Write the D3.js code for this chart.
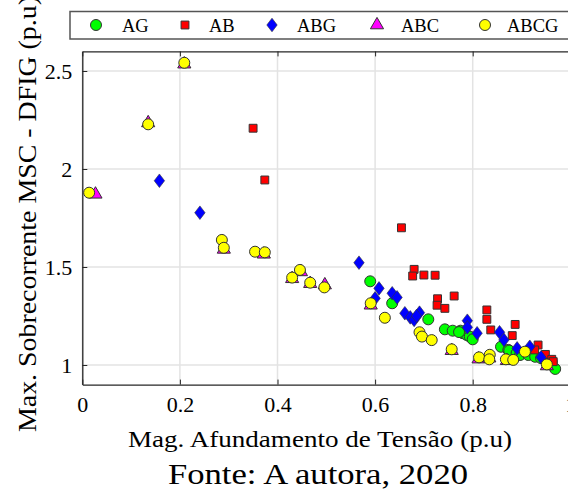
<!DOCTYPE html>
<html><head><meta charset="utf-8">
<script src="https://cdn.jsdelivr.net/npm/d3@7/dist/d3.min.js"></script>
<style>
html,body{margin:0;padding:0;background:#fff;}
svg{display:block;}
text{font-family:"Liberation Serif","Times New Roman",serif;fill:#000;}
</style></head>
<body><svg id="c" width="568" height="494"></svg>
<script>
const seriesNames = ["AG","AB","ABG","ABC","ABCG"];
const xTicks = [0,0.2,0.4,0.6,0.8,1];
const yTicks = [1,1.5,2,2.5];
const AG = [[0.590,1.427],[0.635,1.315],[0.709,1.233],[0.743,1.182],[0.759,1.175],[0.775,1.175],[0.780,1.162],[0.788,1.153],[0.794,1.145],[0.800,1.131],[0.772,1.168],[0.858,1.093],[0.873,1.077],[0.875,1.073],[0.890,1.060],[0.897,1.051],[0.914,1.051],[0.928,1.042],[0.940,1.035],[0.962,1.017],[0.969,0.980]];
const AB = [[0.350,2.208],[0.374,1.944],[0.654,1.700],[0.680,1.488],[0.677,1.454],[0.700,1.459],[0.723,1.458],[0.728,1.338],[0.727,1.305],[0.743,1.289],[0.762,1.352],[0.829,1.281],[0.829,1.233],[0.837,1.179],[0.887,1.207],[0.881,1.150],[0.934,1.102],[0.927,1.077],[0.949,1.054],[0.962,1.029],[0.965,1.017]];
const ABG = [[0.158,1.940],[0.241,1.777],[0.567,1.522],[0.608,1.391],[0.600,1.340],[0.635,1.366],[0.645,1.345],[0.661,1.264],[0.672,1.243],[0.680,1.230],[0.691,1.267],[0.685,1.250],[0.789,1.226],[0.789,1.192],[0.809,1.162],[0.855,1.167],[0.864,1.128],[0.891,1.085],[0.917,1.093],[0.940,1.039]];
const ABC = [[0.027,1.871],[0.135,2.235],[0.209,2.535],[0.290,1.590],[0.372,1.565],[0.448,1.475],[0.430,1.440],[0.467,1.415],[0.497,1.408],[0.591,1.305],[0.757,1.073],[0.812,1.030],[0.834,1.035],[0.870,1.022],[0.952,0.995]];
const ABCG = [[0.014,1.879],[0.135,2.228],[0.209,2.542],[0.286,1.638],[0.290,1.598],[0.354,1.578],[0.374,1.575],[0.446,1.485],[0.430,1.446],[0.467,1.420],[0.496,1.396],[0.591,1.315],[0.620,1.241],[0.691,1.167],[0.696,1.145],[0.716,1.127],[0.757,1.080],[0.813,1.039],[0.835,1.052],[0.834,1.029],[0.868,1.029],[0.883,1.026],[0.907,1.068],[0.952,1.003]];

const svg = d3.select("#c");
const x = d3.scaleLinear().domain([0,1]).range([82.3,570.3]);
const y = d3.scaleLinear().domain([0.9,2.6]).range([384.6,51.4]);
const pTop = y(2.6), pBot = y(0.9), pLeft = x(0), pRight = x(1);

// grid
const g = svg.append("g");
g.selectAll(".gx").data(xTicks).join("line").attr("x1",d=>x(d)).attr("x2",d=>x(d)).attr("y1",pTop).attr("y2",pBot).attr("stroke","#e3e3e3").attr("stroke-width",1.5);
g.selectAll(".gy").data(yTicks).join("line").attr("x1",pLeft).attr("x2",pRight).attr("y1",d=>y(d)).attr("y2",d=>y(d)).attr("stroke","#e3e3e3").attr("stroke-width",1.5);

// axes
const ax = svg.append("g").attr("transform",`translate(0,${pBot})`).call(d3.axisBottom(x).tickValues(xTicks).tickSizeInner(-5).tickSizeOuter(0).tickPadding(11).tickFormat(d3.format("")));
const ay = svg.append("g").attr("transform",`translate(${pLeft},0)`).call(d3.axisLeft(y).tickValues(yTicks).tickSizeInner(-5).tickSizeOuter(0).tickPadding(10).tickFormat(d3.format("")));
const at = svg.append("g").attr("transform",`translate(0,${pTop})`).call(d3.axisTop(x).tickValues(xTicks).tickSizeInner(-5).tickSizeOuter(0).tickFormat(""));
[ax,ay,at].forEach(a=>{a.attr("font-family",null);a.select(".domain").attr("stroke","#262626").attr("stroke-width",1.3);a.selectAll(".tick line").attr("stroke","#262626");a.selectAll("text").attr("font-size",22);});
ax.selectAll("text").attr("dy","0.75em");

// markers
const diamond = {draw(ctx,size){const w=5.2,h=6.8;ctx.moveTo(0,-h);ctx.lineTo(w,0);ctx.lineTo(0,h);ctx.lineTo(-w,0);ctx.closePath();}};
const sym = {
  AG: {type:d3.symbolCircle,size:95,fill:"#00ff00"},
  AB: {type:d3.symbolSquare,size:62,fill:"#ff0000"},
  ABG:{type:diamond,size:1,fill:"#0000ff"},
  ABC:{type:d3.symbolTriangle,size:75,fill:"#ff00ff"},
  ABCG:{type:d3.symbolCircle,size:95,fill:"#ffff00"}
};
const data = {AG,AB,ABG,ABC,ABCG};
function shape(name){
  const s = sym[name];
  return d3.symbol().type(s.type).size(s.size)();
}
seriesNames.forEach(n=>{
  const s = sym[n];
  svg.append("g").selectAll("path").data(data[n]).join("path")
    .attr("d",shape(n))
    .attr("transform",d=>`translate(${x(d[0])},${y(d[1])})`)
    .attr("fill",s.fill).attr("stroke","#333").attr("stroke-width",n==="ABG"?0.6:1);
});

// legend
const lg = svg.append("g");
lg.append("rect").attr("x",70).attr("y",11.5).attr("width",520).attr("height",27.5).attr("fill","#fff").attr("stroke","#555").attr("stroke-width",1.5);
const legX = [96,185,272,377,485];
const legT = [122,209,297,401,507];
seriesNames.forEach((n,i)=>{
  const s = sym[n];
  lg.append("path").attr("d",shape(n)).attr("transform",`translate(${legX[i]},25)`).attr("fill",s.fill).attr("stroke","#333").attr("stroke-width",n==="ABG"?0.6:1);
  lg.append("text").attr("x",legT[i]).attr("y",31.5).attr("font-size",18.5).text(n);
});

// labels
svg.append("text").attr("x",320).attr("y",447).attr("text-anchor","middle").attr("font-size",24).attr("textLength",384).attr("lengthAdjust","spacingAndGlyphs").text("Mag. Afundamento de Tensão (p.u)");
svg.append("text").attr("transform","translate(36,214) rotate(-90)").attr("text-anchor","middle").attr("font-size",24.5).attr("textLength",436).attr("lengthAdjust","spacingAndGlyphs").text("Max. Sobrecorrente MSC - DFIG (p.u)");
svg.append("text").attr("x",318).attr("y",484).attr("text-anchor","middle").attr("font-size",30).attr("textLength",300).attr("lengthAdjust","spacingAndGlyphs").text("Fonte: A autora, 2020");
</script></body></html>
